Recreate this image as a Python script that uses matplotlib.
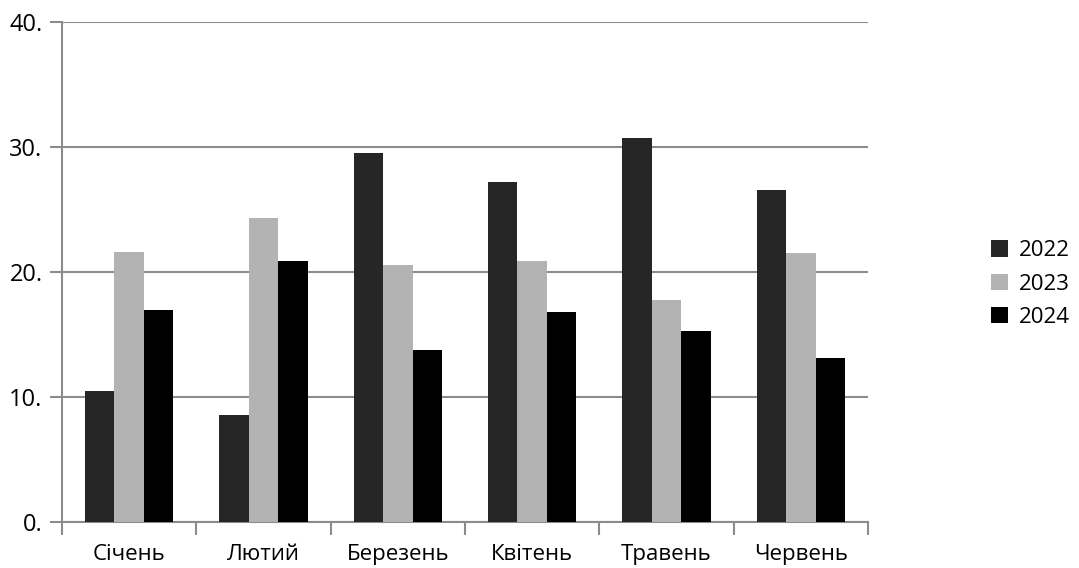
import matplotlib
matplotlib.use("Agg")
import matplotlib.pyplot as plt
import numpy as np

categories = ["Січень", "Лютий", "Березень", "Квітень", "Травень", "Червень"]
series_names = ["2022", "2023", "2024"]
values_2022 = [10.5, 8.6, 29.5, 27.2, 30.7, 26.6]
values_2023 = [21.6, 24.3, 20.6, 20.9, 17.8, 21.5]
values_2024 = [17.0, 20.9, 13.8, 16.8, 15.3, 13.1]
y_ticks = [0, 10, 20, 30, 40]
y_tick_labels = ["0.", "10.", "20.", "30.", "40."]

colors = ["#262626", "#b3b3b3", "#000000"]
grid_color = "#8c8c8c"

plt.rcParams['font.family'] = ['Open Sans', 'DejaVu Sans']

fig = plt.figure(figsize=(10.79, 5.68), dpi=100)
ax = fig.add_axes([62/1079, 1 - 522/568, (868-62)/1079, (522-22)/568])

x = np.arange(len(categories))
w = 0.22
for i, (vals, name) in enumerate(zip([values_2022, values_2023, values_2024], series_names)):
    ax.bar(x + (i - 1) * w, vals, width=w, color=colors[i], label=name, zorder=3)

ax.set_xlim(-0.5, len(categories) - 0.5)
ax.set_ylim(0, 40)
ax.set_yticks(y_ticks)
ax.set_yticklabels(y_tick_labels, fontsize=17)
ax.yaxis.grid(True, color=grid_color, linewidth=1.5, zorder=1)
ax.set_axisbelow(True)

ax.set_xticks(np.arange(len(categories) + 1) - 0.5)
ax.set_xticklabels([])
ax.set_xticks(x, minor=True)
ax.set_xticklabels(categories, minor=True, fontsize=16)
ax.tick_params(axis='x', which='minor', length=0, pad=16)
ax.tick_params(axis='x', which='major', length=9, width=1.5, color=grid_color, direction='out')
ax.tick_params(axis='y', length=9, width=1.5, color=grid_color, direction='out', pad=5)

for s in ['top', 'right']:
    ax.spines[s].set_visible(False)
for s in ['left', 'bottom']:
    ax.spines[s].set_color(grid_color)
    ax.spines[s].set_linewidth(1.5)

ax.legend(loc='center left', bbox_to_anchor=(980/1079, 284/568), bbox_transform=fig.transFigure,
          frameon=False, fontsize=16, handlelength=0.75, handleheight=0.75, handletextpad=0.5,
          labelspacing=0.55, borderpad=0)

fig.savefig("out.png", dpi=100)
